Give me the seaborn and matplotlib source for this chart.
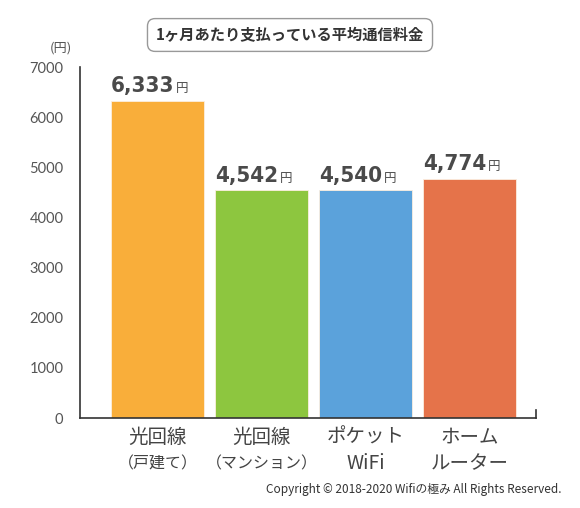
import seaborn as sns
import matplotlib.pyplot as plt
import pandas as pd

# data
categories = ["光回線（戸建て）", "光回線（マンション）", "ポケットWiFi", "ホームルーター"]
label_top = ["光回線", "光回線", "ポケット", "ホーム"]
label_bottom = ["（戸建て）", "（マンション）", "WiFi", "ルーター"]
bottom_sizes = [11.5, 11.5, 14, 14]
fees = [6333, 4542, 4540, 4774]
colors = ["#F9AE3A", "#8DC63F", "#5BA2DB", "#E5734A"]
yticks = [0, 1000, 2000, 3000, 4000, 5000, 6000, 7000]

sns.set_style("white")
plt.rcParams['font.family'] = ['Noto Sans CJK JP', 'DejaVu Sans']

df = pd.DataFrame({"cat": categories, "fee": fees})

fig = plt.figure(figsize=(5.8, 5.08), dpi=100)
ax = fig.add_axes([0.138, 0.177, 0.786, 0.691])

sns.barplot(data=df, x="cat", y="fee", hue="cat", palette=colors, saturation=1,
            width=0.894, edgecolor="#fbeee0", linewidth=0.6, legend=False, ax=ax)

ax.set_xlim(-0.745, 3.64)
ax.set_ylim(0, 7000)
ax.set_yticks(yticks)
ax.set_yticklabels([str(t) for t in yticks], fontsize=10.5, color="#555555",
                   family=['Lato', 'DejaVu Sans'])
ax.tick_params(axis='y', direction='in', length=9, width=1, color="#333333", pad=12)
ax.set_xticks([])
ax.set_xlabel("")
ax.set_ylabel("")

ax.spines["top"].set_visible(False)
for s in ["left", "bottom", "right"]:
    ax.spines[s].set_color("#333333")
    ax.spines[s].set_linewidth(1.2)
ax.spines["right"].set_bounds(0, 160)

# value labels
for i, v in enumerate(fees):
    ax.annotate(f"{v:,}", xy=(i, v), xytext=(12, 6), textcoords='offset points',
                ha='right', va='baseline', fontsize=16, fontweight='bold',
                fontstretch='condensed', color="#4a4a4a", family=['DejaVu Sans'])
    ax.annotate("円", xy=(i, v), xytext=(13, 6), textcoords='offset points',
                ha='left', va='baseline', fontsize=9, color="#4a4a4a")

# category labels
trans = ax.get_xaxis_transform()
for i in range(len(categories)):
    ax.text(i, -0.055, label_top[i], transform=trans, ha='center', va='center',
            fontsize=14, color="#444444")
    ax.text(i, -0.13, label_bottom[i], transform=trans, ha='center', va='center',
            fontsize=bottom_sizes[i], color="#444444")

fig.text(0.105, 1 - 48 / 508, "(円)", ha='center', va='center', fontsize=9.5, color="#555555")

fig.text(0.5, 1 - 35 / 508, "1ヶ月あたり支払っている平均通信料金", ha='center', va='center',
         fontsize=11, fontweight='bold', color="#333333",
         bbox=dict(boxstyle="round,pad=0.55,rounding_size=0.5", facecolor="white",
                   edgecolor="#999999", linewidth=1))

fig.text(562 / 580, 1 - 489 / 508, "Copyright © 2018-2020 Wifiの極み All Rights Reserved.",
         ha='right', va='center', fontsize=8.5, color="#333333")

fig.savefig("out.png", dpi=100)
